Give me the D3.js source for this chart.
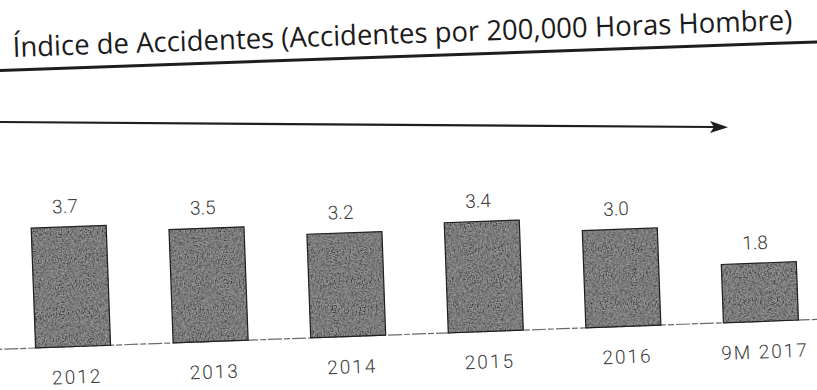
<!DOCTYPE html>
<html>
<head>
<meta charset="utf-8">
<script src="https://cdn.jsdelivr.net/npm/d3@7"></script>
<style>
  html, body { margin: 0; padding: 0; background: #fff; }
  svg { display: block; }
</style>
</head>
<body>
<svg id="chart" width="817" height="390"></svg>
<script>
// Accident index per 200,000 man-hours
const categories = ["2012", "2013", "2014", "2015", "2016", "9M 2017"];
const values = [3.7, 3.5, 3.2, 3.4, 3.0, 1.8];
const valueLabels = ["3.7", "3.5", "3.2", "3.4", "3.0", "1.8"];
const titleText = "Índice de Accidentes (Accidentes por 200,000 Horas Hombre)";

const W = 817, H = 390;
const svg = d3.select("#chart");

// speckled texture for the bars
const defs = svg.append("defs");
const grain = defs.append("filter").attr("id", "grain")
  .attr("x", 0).attr("y", 0).attr("width", 1).attr("height", 1);
grain.append("feTurbulence")
  .attr("type", "fractalNoise")
  .attr("baseFrequency", 0.75)
  .attr("numOctaves", 2)
  .attr("seed", 3)
  .attr("result", "noise");
grain.append("feColorMatrix")
  .attr("in", "noise")
  .attr("type", "matrix")
  .attr("values", "2.2 0 0 0 -0.75  2.2 0 0 0 -0.75  2.2 0 0 0 -0.75  0 0 0 0 1")
  .attr("result", "gray");
grain.append("feComposite")
  .attr("in", "gray")
  .attr("in2", "SourceAlpha")
  .attr("operator", "in");

// Title with its underline
const titleG = svg.append("g").attr("transform", "translate(13,57) rotate(-2)");
titleG.append("text")
  .attr("x", 0).attr("y", 0)
  .attr("textLength", 780)
  .attr("lengthAdjust", "spacingAndGlyphs")
  .style("font-family", "'Open Sans', 'Noto Sans', sans-serif")
  .style("font-size", "28px")
  .style("fill", "#1b1b1b")
  .text(titleText);
titleG.append("line")
  .attr("x1", -20).attr("x2", 830)
  .attr("y1", 13).attr("y2", 13)
  .attr("stroke", "#1e1e1e")
  .attr("stroke-width", 3);

// Trend arrow
const arrowPts = [[0, 122], [714, 127]];
svg.append("path")
  .attr("d", d3.line()(arrowPts))
  .attr("stroke", "#1e1e1e")
  .attr("stroke-width", 2.2)
  .attr("fill", "none");
svg.append("path")
  .attr("d", "M710,121 L728,127.2 L710,133 L714,127 Z")
  .attr("fill", "#1e1e1e");

// Bar chart, slightly tilted
const cx = 417, baseY = 334;
const g = svg.append("g").attr("transform", `rotate(-2.1, ${cx}, ${baseY})`);

const x = d3.scaleBand()
  .domain(categories)
  .range([4, 830])
  .paddingInner(0.455)
  .paddingOuter(0.2275);

const y = d3.scaleLinear()
  .domain([0, 4])
  .range([baseY, baseY - 4 * 32.4]);

// baseline
g.append("line")
  .attr("x1", -20).attr("x2", 850)
  .attr("y1", y(0)).attr("y2", y(0))
  .attr("stroke", "#6a6a6a")
  .attr("stroke-width", 1.2)
  .attr("stroke-dasharray", "14,2,6,2");

const bars = g.selectAll("g.bar")
  .data(values)
  .join("g")
  .attr("class", "bar");

bars.append("rect")
  .attr("x", (d, i) => x(categories[i]))
  .attr("width", x.bandwidth())
  .attr("y", d => y(d))
  .attr("height", d => y(0) - y(d))
  .attr("fill", "#5c5c5c");

bars.append("rect")
  .attr("x", (d, i) => x(categories[i]))
  .attr("width", x.bandwidth())
  .attr("y", d => y(d))
  .attr("height", d => y(0) - y(d))
  .attr("fill", "#000")
  .attr("filter", "url(#grain)")
  .attr("opacity", 0.45);

bars.append("rect")
  .attr("x", (d, i) => x(categories[i]))
  .attr("width", x.bandwidth())
  .attr("y", d => y(d))
  .attr("height", d => y(0) - y(d))
  .attr("fill", "none")
  .attr("stroke", "#1f1f1f")
  .attr("stroke-width", 1.2);

g.selectAll("text.val")
  .data(values)
  .join("text")
  .attr("class", "val")
  .attr("x", (d, i) => x(categories[i]) + x.bandwidth() / 2 - 3)
  .attr("y", d => y(d) - 14)
  .attr("text-anchor", "middle")
  .style("font-family", "Roboto, 'Liberation Sans', sans-serif")
  .style("font-weight", 300)
  .style("font-size", "19px")
  .style("fill", "#3a3a3a")
  .text((d, i) => valueLabels[i]);

// category axis labels
const axis = d3.axisBottom(x).tickSize(0).tickPadding(0);
const axG = g.append("g")
  .attr("transform", `translate(3, ${y(0) + 37})`)
  .call(axis);
axG.select(".domain").remove();
axG.selectAll("text")
  .attr("dy", 0)
  .style("font-family", "Roboto, 'Liberation Sans', sans-serif")
  .style("font-weight", 300)
  .style("font-size", "19px")
  .style("letter-spacing", "2px")
  .style("fill", "#3a3a3a");
</script>
</body>
</html>
